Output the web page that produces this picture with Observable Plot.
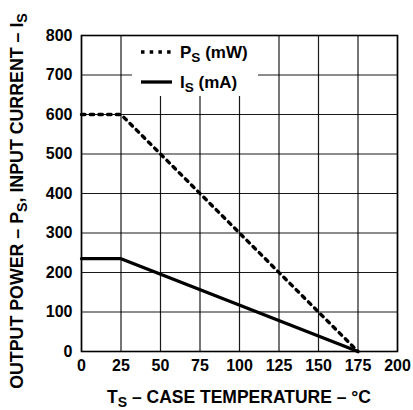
<!DOCTYPE html>
<html>
<head>
<meta charset="utf-8">
<script src="https://cdn.jsdelivr.net/npm/d3@7"></script>
<script src="https://cdn.jsdelivr.net/npm/@observablehq/plot@0.6"></script>
<style>
  html, body { margin: 0; padding: 0; background: #fff; }
  svg text { font-family: "Liberation Sans", Arial, Helvetica, sans-serif !important; font-weight: bold !important; fill: #000; }
  svg [aria-label="x-axis tick label"] text, svg [aria-label="y-axis tick label"] text { font-size: 16px; }
</style>
</head>
<body>
<div id="chart"></div>
<script>
// Data
const temps = [0, 25, 175];
const psValues = [600, 600, 0];   // P_S (mW)
const isValues = [235, 235, 0];   // I_S (mA)
const xTicks = [0, 25, 50, 75, 100, 125, 150, 175, 200];
const yTicks = [0, 100, 200, 300, 400, 500, 600, 700, 800];

const psData = temps.map((t, i) => ({t, v: psValues[i]}));
const isData = temps.map((t, i) => ({t, v: isValues[i]}));

const font = "'Liberation Sans', Arial, Helvetica, sans-serif";

const chart = Plot.plot({
  width: 413,
  height: 410,
  marginLeft: 81,
  marginRight: 16,
  marginTop: 35,
  marginBottom: 59,
  x: {domain: [0, 200], label: null},
  y: {domain: [0, 800], label: null},
  style: {fontFamily: font, fontSize: "16px", fontWeight: "bold", color: "#000", background: "#fff"},
  marks: [
    Plot.gridX(xTicks, {stroke: "#000", strokeOpacity: 0.9, strokeWidth: 1.2}),
    Plot.gridY(yTicks, {stroke: "#000", strokeOpacity: 0.9, strokeWidth: 1.2}),
    Plot.line(psData, {x: "t", y: "v", stroke: "#000", strokeWidth: 3.4, strokeDasharray: "3.5,5.2"}),
    Plot.line(isData, {x: "t", y: "v", stroke: "#000", strokeWidth: 3.3}),
    Plot.frame({stroke: "#000", strokeWidth: 1.6}),
    Plot.axisX(xTicks, {tickSize: 0, tickPadding: 8, label: null, fontSize: 16}),
    Plot.axisY(yTicks, {tickSize: 0, tickPadding: 9, label: null, fontSize: 16})
  ]
});

document.getElementById("chart").appendChild(chart);

const svg = d3.select(chart);
const xs = chart.scale("x");
const cx = (xs.apply(0) + xs.apply(200)) / 2;

// parts: [text, isSubscript]; subscripts are lowered and smaller
function subText(sel, parts) {
  let shift = 0;
  parts.forEach(([txt, sub]) => {
    const target = sub ? 4 : 0;
    const ts = sel.append("tspan").attr("dy", target - shift).text(txt);
    if (sub) ts.attr("font-size", "0.8em");
    shift = target;
  });
}

// Legend (white box over the grid)
const lg = svg.insert("g", "[aria-label=frame]");
lg.append("rect").attr("x", 132).attr("y", 36).attr("width", 126).attr("height", 60).attr("fill", "#fff");
lg.append("line").attr("x1", 141).attr("x2", 172).attr("y1", 52).attr("y2", 52)
  .attr("stroke", "#000").attr("stroke-width", 3.4).attr("stroke-dasharray", "3.5,5.2");
lg.append("line").attr("x1", 141).attr("x2", 172).attr("y1", 82).attr("y2", 82)
  .attr("stroke", "#000").attr("stroke-width", 3.3);
const t1 = lg.append("text").attr("x", 180).attr("y", 58).attr("text-anchor", "start").attr("font-size", 17);
subText(t1, [["P"], ["S", true], [" (mW)"]]);
const t2 = lg.append("text").attr("x", 180).attr("y", 88).attr("text-anchor", "start").attr("font-size", 17);
subText(t2, [["I"], ["S", true], [" (mA)"]]);

// X axis label
const xl = svg.append("text").attr("x", cx).attr("y", 403).attr("text-anchor", "middle").attr("font-size", 17.5);
subText(xl, [["T"], ["S", true], [" – CASE TEMPERATURE – °C"]]);

// Y axis label
const yl = svg.append("text").attr("transform", `translate(23,201) rotate(-90)`).attr("text-anchor", "middle").attr("font-size", 17.8);
subText(yl, [["OUTPUT POWER – P"], ["S", true], [", INPUT CURRENT – I"], ["S", true]]);
</script>
</body>
</html>
